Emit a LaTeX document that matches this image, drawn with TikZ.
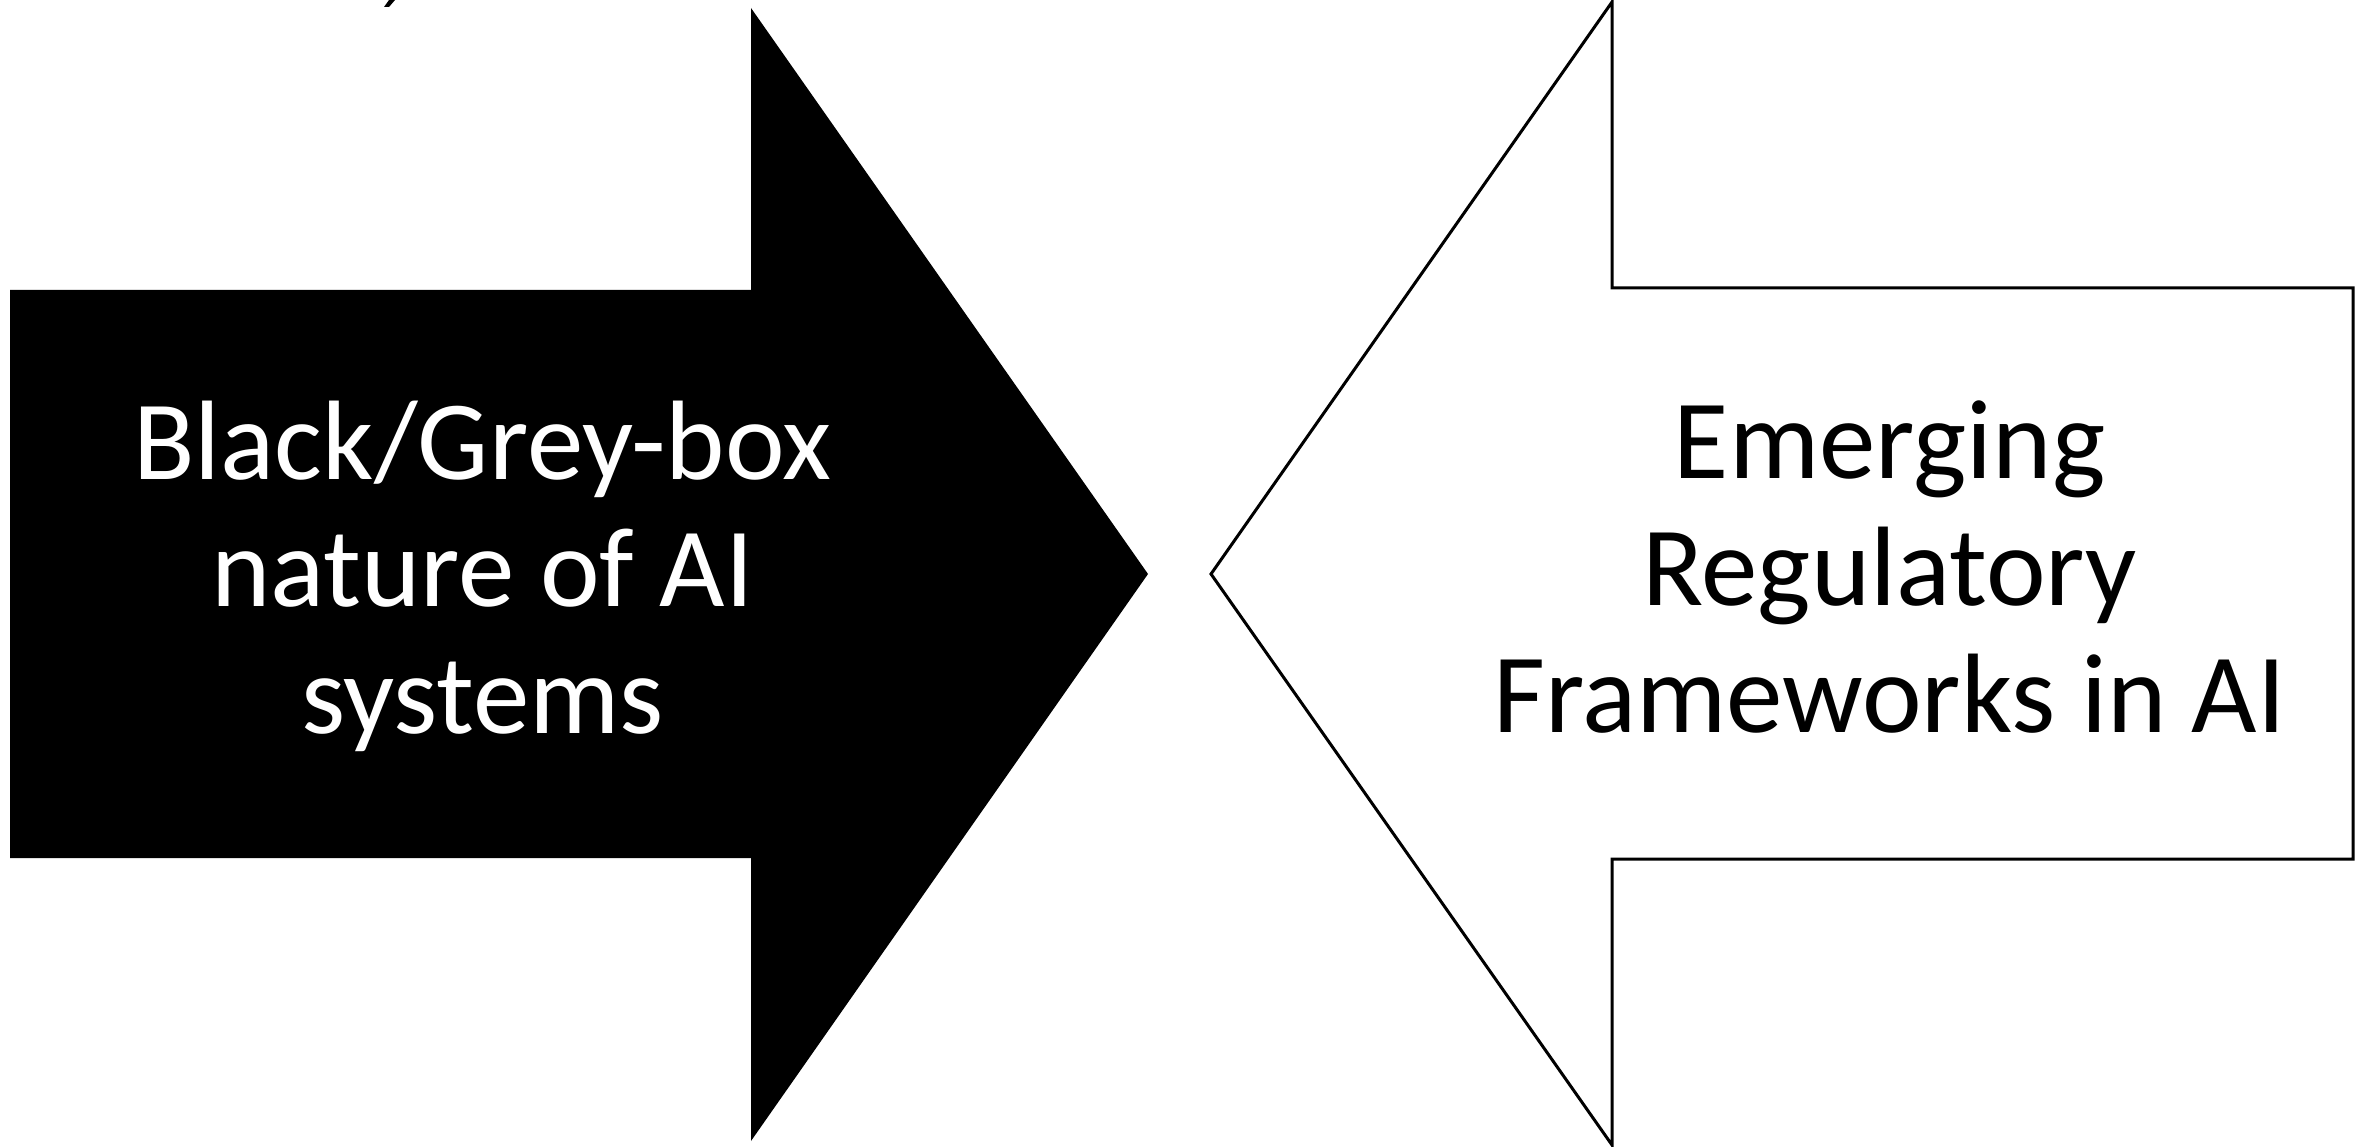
\documentclass[tikz,border=0pt]{standalone}
\usepackage{fontspec}
\setmainfont{Carlito}
\begin{document}
\begin{tikzpicture}[x=1pt,y=-1pt,
  label text/.style={font=\fontsize{113}{127}\selectfont, align=center, inner sep=0pt},
  outline/.style={draw=black, line width=3pt, line join=miter, fill=white}]
  \useasboundingbox (0,0) rectangle (2361,1147);
  % solid right-pointing block arrow
  \fill[black] (10,290) -- (751,290) -- (751,8) -- (1148,574) -- (751,1141)
    -- (751,858) -- (10,858) -- cycle;
  % outlined left-pointing block arrow
  \draw[outline] (1211,574) -- (1612,2) -- (1612,288) -- (2353,288)
    -- (2353,859) -- (1612,859) -- (1612,1145) -- cycle;
  % tail of a glyph cut by the top edge
  \fill[black] (384,7) -- (389,7) -- (395,0) -- (389,0) -- cycle;
  % labels (base anchor sits on the last line)
  \node[label text, text=white, anchor=base] (lefttext) at (482.5,733)
    {Black/Grey-box\\nature of AI\\systems};
  \node[label text, text=black, anchor=base] (righttext) at (1889.5,732)
    {Emerging\\Regulatory\\Frameworks in AI};
\end{tikzpicture}
\end{document}
